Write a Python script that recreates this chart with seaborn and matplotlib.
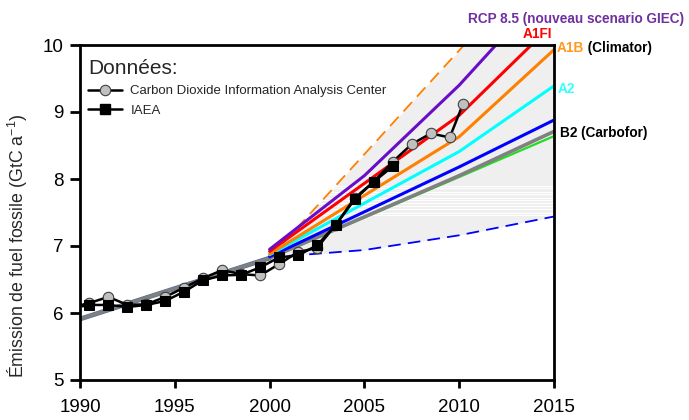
import numpy as np
import pandas as pd
import matplotlib
matplotlib.use("Agg")
import matplotlib.pyplot as plt
from matplotlib.lines import Line2D
import seaborn as sns

# ---------------- data ----------------
cdiac_years = [1989.5, 1990.5, 1991.5, 1992.5, 1993.5, 1994.5, 1995.5, 1996.5, 1997.5,
               1998.5, 1999.5, 2000.5, 2001.5, 2002.5, 2003.5, 2004.5, 2005.5, 2006.5,
               2007.5, 2008.5, 2009.5, 2010.2]
cdiac_vals = [6.08, 6.15, 6.24, 6.12, 6.13, 6.24, 6.38, 6.52, 6.64,
              6.58, 6.56, 6.73, 6.91, 6.97, 7.32, 7.72, 7.96, 8.26,
              8.52, 8.68, 8.62, 9.12]

iaea_years = [1989.5, 1990.5, 1991.5, 1992.5, 1993.5, 1994.5, 1995.5, 1996.5, 1997.5,
              1998.5, 1999.5, 2000.5, 2001.5, 2002.5, 2003.5, 2004.5, 2005.5, 2006.5]
iaea_vals = [6.07, 6.12, 6.12, 6.09, 6.12, 6.18, 6.32, 6.49, 6.56,
             6.57, 6.68, 6.83, 6.86, 7.01, 7.32, 7.70, 7.96, 8.19]

hist_years = [1990, 2000]
hist_vals = [5.91, 6.82]

gray_years = [1990, 2000, 2010, 2015]
gray_vals = [5.91, 6.82, 8.05, 8.71]
green_years = [2000, 2010, 2015]
green_vals = [6.82, 8.03, 8.64]
blue_years = [2000, 2010, 2015]
blue_vals = [6.84, 8.18, 8.88]
a2_years = [2000, 2010, 2015]
a2_vals = [6.87, 8.41, 9.39]
a1b_years = [2000, 2010, 2015]
a1b_vals = [6.88, 8.63, 9.93]
a1fi_years = [2000, 2010, 2015]
a1fi_vals = [6.92, 8.95, 10.33]
rcp_years = [2000, 2005, 2010, 2015]
rcp_vals = [6.95, 8.05, 9.40, 10.95]

env_years = [2000, 2005, 2010, 2015]
env_upper = [6.82, 8.37, 9.92, 11.47]
env_lower = [6.83, 6.94, 7.16, 7.44]

# rendering stripes seen inside the shaded envelope
stripe_levels = [7.46, 7.50, 7.55, 7.60, 7.64, 7.68, 7.72, 7.77, 7.81, 7.86, 7.89]

x_ticks = [1990, 1995, 2000, 2005, 2010, 2015]
y_ticks = [5, 6, 7, 8, 9, 10]

# ---------------- style ----------------
sns.set_style("ticks")
plt.rcParams['font.family'] = ['Liberation Sans', 'DejaVu Sans']
plt.rcParams['mathtext.fontset'] = 'custom'
plt.rcParams['mathtext.rm'] = 'Liberation Sans'
plt.rcParams['mathtext.it'] = 'Liberation Sans:italic'

fig = plt.figure(figsize=(6.89, 4.2), dpi=100)
ax = fig.add_axes([80/689, 1-380/420, 474/689, 335/420])

# envelope shading
poly = ax.fill_between(env_years, env_lower, env_upper, color='#efefef', lw=0, zorder=1)
for lev in stripe_levels:
    hl = ax.axhline(lev, color='white', lw=0.7, zorder=1.5)
    hl.set_clip_path(poly.get_paths()[0], ax.transData)

def line(xs, ys, color, lw, z, ls='-', **kw):
    sns.lineplot(x=xs, y=ys, ax=ax, color=color, lw=lw, linestyle=ls,
                 estimator=None, sort=False, zorder=z, **kw)

line(env_years, env_upper, '#ff8000', 1.3, 2, ls=(0, (7, 4)))
line(env_years, env_lower, '#0000ff', 1.3, 2, ls=(0, (7, 4)))

line(hist_years, hist_vals, '#4a6fa5', 3.4, 3)
line(green_years, green_vals, '#22dd22', 1.6, 3)
line(gray_years, gray_vals, '#808080', 2.6, 4)
line(blue_years, blue_vals, '#0000ff', 2.2, 5)
line(a2_years, a2_vals, '#00ffff', 2.2, 5)
line(a1b_years, a1b_vals, '#ff8000', 2.2, 5)
line(a1fi_years, a1fi_vals, '#ff0000', 2.2, 5)
line(rcp_years, rcp_vals, '#6a0dc8', 2.2, 5)

sns.lineplot(x=cdiac_years, y=cdiac_vals, ax=ax, color='black', lw=1.8,
             marker='o', markersize=7.5, markerfacecolor='#c0c0c0',
             markeredgecolor='#404040', markeredgewidth=0.8,
             estimator=None, sort=False, zorder=6)
sns.lineplot(x=iaea_years, y=iaea_vals, ax=ax, color='black', lw=1.8,
             marker='s', markersize=7, markerfacecolor='black',
             markeredgecolor='black', estimator=None, sort=False, zorder=7)

ax.set_xlim(1990, 2015)
ax.set_ylim(5, 10)
ax.set_xticks(x_ticks)
ax.set_yticks(y_ticks)
ax.set_xticklabels([str(t) for t in x_ticks])
ax.set_yticklabels([str(t) for t in y_ticks])
for s in ax.spines.values():
    s.set_visible(True)
    s.set_linewidth(2.0)
    s.set_color('black')
    s.set_zorder(10)
ax.tick_params(axis='both', which='both', direction='out', width=2.0,
               labelsize=13.5, colors='black')
ax.tick_params(axis='y', length=7, pad=5)
ax.tick_params(axis='x', length=6, pad=8)
ax.tick_params(top=False, right=False)

ax.set_ylabel('Émission de fuel fossile (GtC a$^{\\mathrm{-1}}$)', fontsize=12.8)
ax.yaxis.set_label_coords(-0.105, 0.40)
ax.set_xlabel('')

handles = [
    Line2D([], [], color='black', lw=1.8, marker='o', markersize=7.5,
           markerfacecolor='#c0c0c0', markeredgecolor='#404040', markeredgewidth=0.8),
    Line2D([], [], color='black', lw=1.8, marker='s', markersize=7,
           markerfacecolor='black'),
]
leg = ax.legend(handles, ['Carbon Dioxide Information Analysis Center', 'IAEA'],
                title='Données:', loc='upper left', bbox_to_anchor=(-0.005, 0.99),
                frameon=False, fontsize=9.5, title_fontsize=15,
                handlelength=2.6, labelspacing=0.55, alignment='left',
                borderpad=0.3, handletextpad=0.6)
leg.set_zorder(11)

W, H = 689, 420
def ftext(x, y, s, color, ha='left', **kw):
    return fig.text(x/W, 1-y/H, s, color=color, ha=ha, va='center',
                    fontsize=9.8, fontweight='bold', **kw)

ftext(468, 19, 'RCP 8.5 (nouveau scenario GIEC)', '#7030a0')
ftext(552, 34, 'A1FI', '#ff0000', ha='right')
t = ftext(557, 48, 'A1B', '#ff9a1f')
fig.canvas.draw()
ax.annotate(' (Climator)', xy=(1, 0.5), xycoords=t, va='center', ha='left',
            fontsize=9.8, fontweight='bold', color='black', annotation_clip=False)
ftext(558, 89, 'A2', '#33ffff')
ftext(560, 133, 'B2 (Carbofor)', 'black')

fig.savefig('out.png', dpi=100)
